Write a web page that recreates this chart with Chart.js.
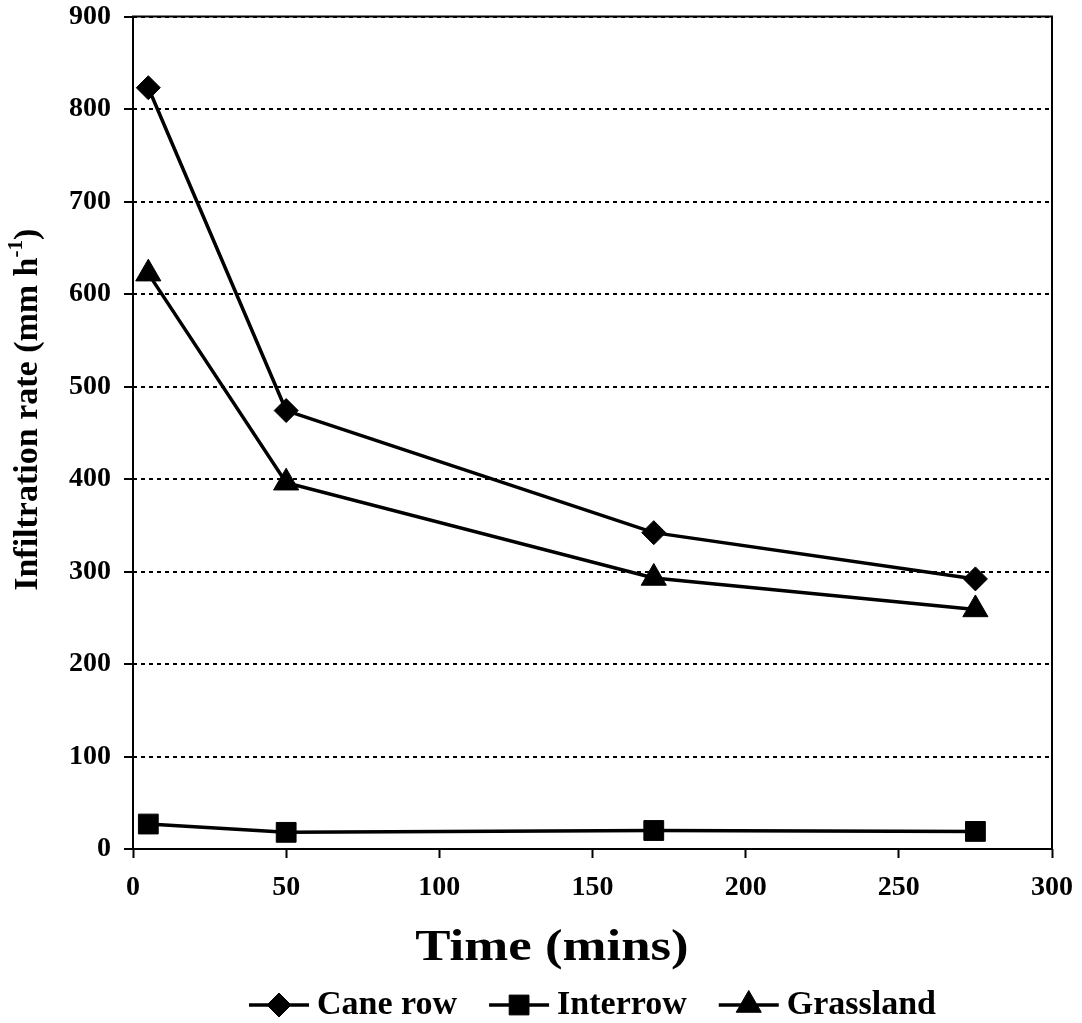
<!DOCTYPE html>
<html>
<head>
<meta charset="utf-8">
<title>Infiltration rate</title>
<script src="https://cdn.jsdelivr.net/npm/chart.js@4.4.0/dist/chart.umd.min.js"></script>
<style>
  body { margin: 0; background: #fff; }
  canvas { display: block; }
</style>
</head>
<body>
<canvas id="infiltrationChart" width="1082" height="1023"></canvas>
<script>
// Infiltration rate over time for the three land uses
const timeMins = [5, 50, 170, 275];
const caneRow = [823, 474, 342, 292];
const interrow = [27, 18, 20, 19];
const grassland = [622, 396, 293, 259];
const seriesNames = ['Cane row', 'Interrow', 'Grassland'];
const xRange = [0, 300];
const yRange = [0, 900];

const serif = "'Liberation Serif', 'Times New Roman', serif";
const markers = [
    { style: 'rectRot', radius: 12 },
    { style: 'rect', radius: 14 },
    { style: 'triangle', radius: 14.5 }
];

function toPoints(values) {
    return values.map(function (v, i) { return { x: timeMins[i], y: v }; });
}

function makeSeries(name, values, marker) {
    return {
        label: name,
        data: toPoints(values),
        borderColor: '#000',
        borderWidth: 3.5,
        backgroundColor: '#000',
        pointStyle: marker.style,
        pointRadius: marker.radius,
        pointHoverRadius: marker.radius,
        pointBackgroundColor: '#000',
        pointBorderColor: '#000',
        pointBorderWidth: 1,
        tension: 0,
        fill: false
    };
}

// solid box round the plot area
const plotFrame = {
    id: 'plotFrame',
    beforeDatasetsDraw(chart) {
        const ctx = chart.ctx, a = chart.chartArea;
        ctx.save();
        ctx.strokeStyle = '#000';
        ctx.lineWidth = 2;
        ctx.setLineDash([]);
        ctx.strokeRect(a.left, a.top, a.right - a.left, a.bottom - a.top);
        ctx.restore();
    }
};

// axis titles: y with the superscript in h-1, x a little widened
const axisTitles = {
    id: 'axisTitles',
    afterDraw(chart) {
        const ctx = chart.ctx, a = chart.chartArea;
        const parts = [
            { text: 'Infiltration rate (mm h', font: 'bold 34px ' + serif, dy: 0 },
            { text: '-1', font: 'bold 21px ' + serif, dy: -11 },
            { text: ')', font: 'bold 34px ' + serif, dy: 0 }
        ];
        ctx.save();
        ctx.fillStyle = '#000';
        ctx.textBaseline = 'middle';
        ctx.textAlign = 'left';
        let total = 0;
        parts.forEach(function (p) { ctx.font = p.font; p.w = ctx.measureText(p.text).width; total += p.w; });
        ctx.translate(28, (a.top + a.bottom) / 2 - 23);
        ctx.rotate(-Math.PI / 2);
        let x = -total / 2;
        parts.forEach(function (p) { ctx.font = p.font; ctx.fillText(p.text, x, p.dy); x += p.w; });
        ctx.restore();

        ctx.save();
        ctx.fillStyle = '#000';
        ctx.font = 'bold 44px ' + serif;
        ctx.textBaseline = 'middle';
        ctx.textAlign = 'center';
        ctx.translate(552, 949);
        ctx.scale(1.2, 1);
        ctx.fillText('Time (mins)', 0, 0);
        ctx.restore();
    }
};

// legend: line with marker, then the series name
const lineLegend = {
    id: 'lineLegend',
    afterDraw(chart) {
        const ctx = chart.ctx, a = chart.chartArea;
        const y = 1005, lineLen = 60, gap = 8, spacing = 32;
        ctx.save();
        ctx.font = 'bold 34px ' + serif;
        const widths = seriesNames.map(function (n) { return ctx.measureText(n).width; });
        let total = 0;
        widths.forEach(function (w, i) { total += lineLen + gap + w + (i ? spacing : 0); });
        let x = (a.left + a.right) / 2 - total / 2;
        seriesNames.forEach(function (name, i) {
            ctx.strokeStyle = '#000';
            ctx.fillStyle = '#000';
            ctx.lineWidth = 3.5;
            ctx.beginPath();
            ctx.moveTo(x, y);
            ctx.lineTo(x + lineLen, y);
            ctx.stroke();
            ctx.lineWidth = 1;
            Chart.helpers.drawPoint(ctx, {
                pointStyle: markers[i].style, radius: markers[i].radius, rotation: 0, borderWidth: 1
            }, x + lineLen / 2, y);
            ctx.font = 'bold 34px ' + serif;
            ctx.textBaseline = 'middle';
            ctx.textAlign = 'left';
            ctx.fillText(name, x + lineLen + gap, y);
            x += lineLen + gap + widths[i] + spacing;
        });
        ctx.restore();
    }
};

const ctx = document.getElementById('infiltrationChart').getContext('2d');
const infiltrationChart = new Chart(ctx, {
    type: 'line',
    data: {
        datasets: [
            makeSeries(seriesNames[0], caneRow, markers[0]),
            makeSeries(seriesNames[1], interrow, markers[1]),
            makeSeries(seriesNames[2], grassland, markers[2])
        ]
    },
    options: {
        responsive: false,
        animation: false,
        layout: { padding: { top: 16.5, right: 30, bottom: 30, left: 0 } },
        plugins: {
            legend: { display: false },
            tooltip: { enabled: false }
        },
        scales: {
            x: {
                type: 'linear',
                min: xRange[0],
                max: xRange[1],
                ticks: {
                    stepSize: 50,
                    color: '#000',
                    padding: 13,
                    font: { family: serif, size: 28, weight: 'bold' }
                },
                grid: {
                    drawOnChartArea: false,
                    drawTicks: true,
                    tickLength: 9,
                    tickColor: '#000',
                    tickWidth: 2
                },
                border: { display: false },
                afterFit: function (scale) {
                    scale.height = 1023 - 849 - 30;
                    scale.paddingLeft = 0;
                    scale.paddingRight = 0;
                }
            },
            y: {
                min: yRange[0],
                max: yRange[1],
                ticks: {
                    stepSize: 100,
                    color: '#000',
                    padding: 13,
                    font: { family: serif, size: 28, weight: 'bold' }
                },
                grid: {
                    color: '#000',
                    lineWidth: 2,
                    drawTicks: true,
                    tickLength: 9,
                    tickColor: '#000',
                    tickWidth: 2,
                    tickBorderDash: []
                },
                border: { display: false, dash: [4, 4] },
                afterFit: function (scale) {
                    scale.width = 133;
                    scale.paddingTop = 0;
                    scale.paddingBottom = 0;
                }
            }
        }
    },
    plugins: [plotFrame, axisTitles, lineLegend]
});
</script>
</body>
</html>
